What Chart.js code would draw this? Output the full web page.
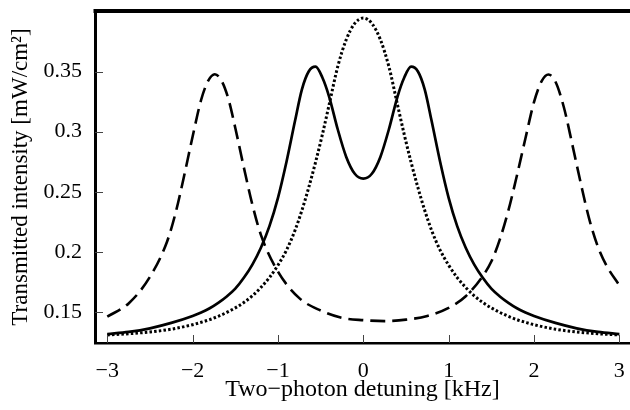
<!DOCTYPE html>
<html>
<head>
<meta charset="utf-8">
<script src="https://cdn.jsdelivr.net/npm/chart.js@4.4.1/dist/chart.umd.min.js"></script>
<style>
  html, body { margin: 0; padding: 0; background: #fff; }
  #wrap { width: 630px; height: 410px; }
</style>
</head>
<body>
<div id="wrap"><canvas id="chartTransmission" width="630" height="410"></canvas></div>
<script>
// ================================
//  data
// ================================
const detuningCore = [-3, -2.75, -2.5, -2.25, -2, -1.9, -1.8, -1.7, -1.6, -1.5, -1.4, -1.3, -1.2, -1.1, -1, -0.9, -0.8, -0.72, -0.64, -0.56, -0.48, -0.4, -0.3, -0.2, -0.1,
                      0, 0.1, 0.2, 0.3, 0.4, 0.48, 0.56, 0.64, 0.72, 0.8, 0.9, 1, 1.1, 1.2, 1.3, 1.4, 1.5, 1.6, 1.7, 1.8, 1.9, 2, 2.25, 2.5, 2.75, 3];

// solid line – split peaks
const solidValues = [0.1317, 0.1335, 0.1365, 0.141, 0.1468, 0.1497, 0.1532, 0.1577, 0.163, 0.1695, 0.1785, 0.1895, 0.2035, 0.2215, 0.245, 0.275, 0.309, 0.335, 0.350, 0.354, 0.345, 0.329, 0.302, 0.279, 0.265,
                     0.261, 0.265, 0.279, 0.302, 0.329, 0.345, 0.354, 0.350, 0.335, 0.309, 0.275, 0.245, 0.2215, 0.2035, 0.1895, 0.1785, 0.1695, 0.163, 0.1577, 0.1532, 0.1497, 0.1468, 0.141, 0.1365, 0.1335, 0.1317];

// dotted line – single peak
const dottedValues = [0.131, 0.132, 0.1335, 0.1358, 0.1395, 0.1415, 0.1437, 0.1465, 0.1497, 0.1535, 0.158, 0.1635, 0.1705, 0.1787, 0.189, 0.2015, 0.218, 0.2345, 0.2535, 0.2745, 0.2975, 0.3225, 0.354, 0.3765, 0.390,
                      0.3945, 0.390, 0.3765, 0.354, 0.3225, 0.2975, 0.2745, 0.2535, 0.2345, 0.218, 0.2015, 0.189, 0.1787, 0.1705, 0.1635, 0.158, 0.1535, 0.1497, 0.1465, 0.1437, 0.1415, 0.1395, 0.1358, 0.1335, 0.132, 0.131];

// dashed line – two shifted peaks
const detuningDashed = [-3, -2.75, -2.5, -2.3, -2.2, -2.1, -2, -1.9, -1.82, -1.74, -1.66, -1.58, -1.5, -1.4, -1.3, -1.2, -1, -0.75, -0.5, -0.25,
                        0, 0.25, 0.5, 0.75, 1, 1.2, 1.4, 1.5, 1.6, 1.7, 1.8, 1.9, 2, 2.09, 2.17, 2.25, 2.35, 2.45, 2.55, 2.65, 2.75, 2.85, 3];
const dashedValues = [0.1462, 0.1572, 0.1793, 0.2085, 0.2324, 0.2631, 0.296, 0.3265, 0.342, 0.3477, 0.3422, 0.327, 0.3031, 0.2703, 0.2394, 0.2142, 0.1836, 0.1616, 0.1513, 0.1452,
                      0.1433, 0.1425, 0.1437, 0.1468, 0.1535, 0.1632, 0.1800, 0.192, 0.2105, 0.2345, 0.2635, 0.2945, 0.3245, 0.342, 0.3475, 0.3418, 0.3203, 0.289, 0.2565, 0.2266, 0.2041, 0.1886, 0.1722];

const xTicks = [-3, -2, -1, 0, 1, 2, 3];
const xTickLabels = ['\u22123', '\u22122', '\u22121', '0', '1', '2', '3'];
const yTicks = [0.15, 0.2, 0.25, 0.3, 0.35];
const yTickLabels = ['0.15', '0.2', '0.25', '0.3', '0.35'];

const toPoints = (xs, ys) => xs.map((x, i) => ({ x: x, y: ys[i] }));

const serif = "'Liberation Serif', 'DejaVu Serif', serif";

// top frame line + short inward tick marks
const framePlugin = {
    id: 'frame',
    afterDraw(chart) {
        const { ctx, chartArea: a, scales } = chart;
        ctx.save();
        ctx.strokeStyle = '#000';
        ctx.lineWidth = 4;
        ctx.beginPath();
        ctx.moveTo(a.left - 1.5, a.top);
        ctx.lineTo(a.right, a.top);
        ctx.stroke();

        ctx.lineWidth = 1;
        ctx.strokeStyle = '#444';
        ctx.beginPath();
        xTicks.forEach(v => {
            const px = Math.round(scales.x.getPixelForValue(v)) + 0.5;
            ctx.moveTo(px, a.bottom);
            ctx.lineTo(px, a.bottom - 8);
        });
        yTicks.forEach(v => {
            const py = Math.round(scales.y.getPixelForValue(v)) + 0.5;
            ctx.moveTo(a.left, py);
            ctx.lineTo(a.left + 8, py);
        });
        ctx.stroke();
        ctx.restore();
    }
};

new Chart(document.getElementById('chartTransmission').getContext('2d'), {
    type: 'line',
    data: {
        datasets: [
            {
                label: 'dashed',
                data: toPoints(detuningDashed, dashedValues),
                borderColor: '#000',
                borderWidth: 2.6,
                borderDash: [15, 7],
                pointRadius: 0,
                cubicInterpolationMode: 'monotone',
                fill: false
            },
            {
                label: 'dotted',
                data: toPoints(detuningCore, dottedValues),
                borderColor: '#000',
                borderWidth: 3,
                borderDash: [2.5, 2.2],
                borderCapStyle: 'butt',
                pointRadius: 0,
                cubicInterpolationMode: 'monotone',
                fill: false
            },
            {
                label: 'solid',
                data: toPoints(detuningCore, solidValues),
                borderColor: '#000',
                borderWidth: 2.7,
                pointRadius: 0,
                cubicInterpolationMode: 'monotone',
                fill: false
            }
        ]
    },
    options: {
        responsive: false,
        animation: false,
        layout: { padding: { top: 11, right: 0, bottom: 0, left: 0 } },
        plugins: {
            legend: { display: false },
            tooltip: { enabled: false }
        },
        scales: {
            x: {
                type: 'linear',
                min: -3.144,
                max: 3.125,
                afterFit: s => { s.height = 67; s.paddingLeft = 0; s.paddingRight = 0; },
                afterBuildTicks: s => { s.ticks = xTicks.map(v => ({ value: v })); },
                grid: { display: false, drawTicks: false },
                border: { display: true, color: '#000', width: 2.5 },
                ticks: {
                    color: '#000',
                    padding: 15,
                    maxRotation: 0,
                    font: { family: serif, size: 22 },
                    callback: (v, i) => xTickLabels[i]
                },
                title: {
                    display: true,
                    text: 'Two\u2212photon detuning [kHz]',
                    color: '#000',
                    padding: { top: 0, bottom: 6 },
                    font: { family: serif, size: 24 }
                }
            },
            y: {
                min: 0.1243,
                max: 0.4003,
                afterFit: s => { s.width = 95; s.paddingTop = 0; s.paddingBottom = 0; },
                afterBuildTicks: s => { s.ticks = yTicks.map(v => ({ value: v })); },
                grid: { display: false, drawTicks: false },
                border: { display: true, color: '#000', width: 3 },
                ticks: {
                    color: '#000',
                    padding: 13,
                    font: { family: serif, size: 22 },
                    callback: (v, i) => yTickLabels[i]
                },
                title: {
                    display: true,
                    text: 'Transmitted intensity [mW/cm\u00b2]',
                    color: '#000',
                    padding: { top: 7, bottom: 0 },
                    font: { family: serif, size: 23 }
                }
            }
        }
    },
    plugins: [framePlugin]
});
</script>
</body>
</html>
